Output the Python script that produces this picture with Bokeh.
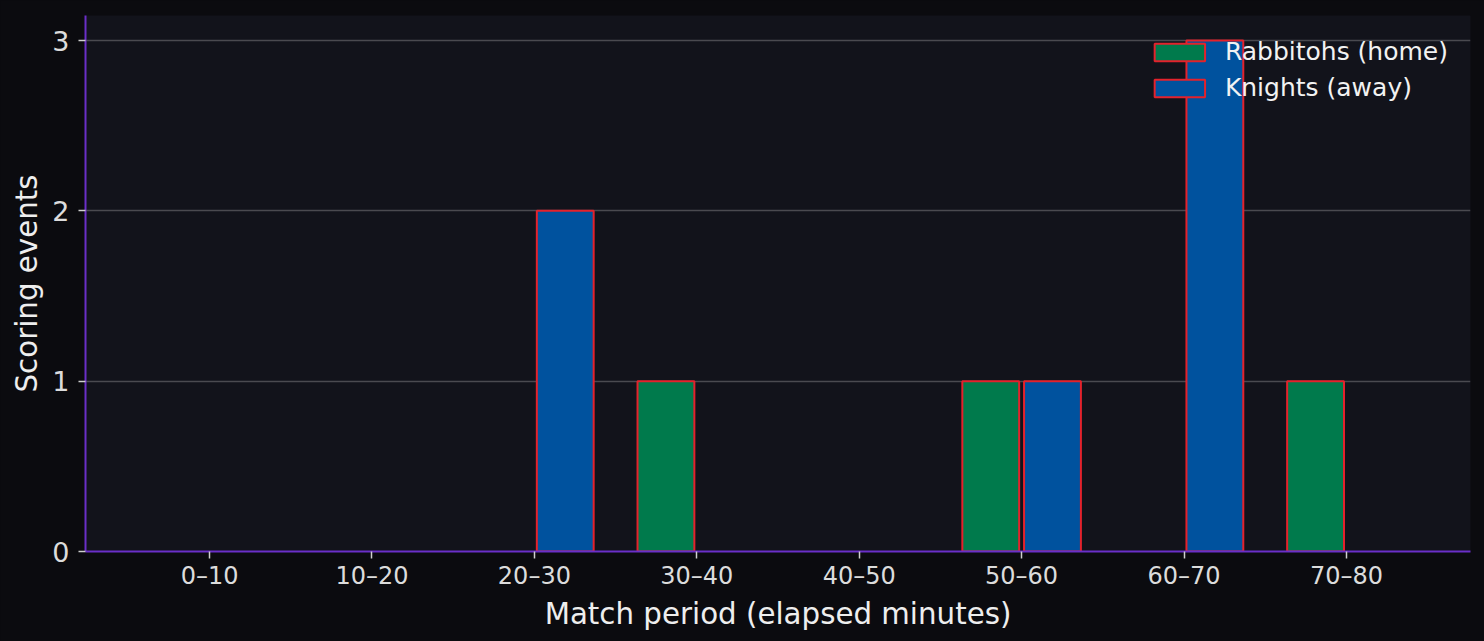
from bokeh.plotting import figure
from bokeh.models import (FactorRange, Range1d, FixedTicker, ColumnDataSource, CDSView,
                          BooleanFilter, GlobalInlineStyleSheet)
from bokeh.transform import dodge
from bokeh.embed import file_html
from bokeh.resources import INLINE

# ---- data ----
periods = ["0–10", "10–20", "20–30", "30–40", "40–50", "50–60", "60–70", "70–80"]
rabbitohs_home = [0, 0, 0, 1, 0, 1, 0, 1]
knights_away = [0, 0, 2, 0, 0, 1, 3, 0]
y_ticks = [0, 1, 2, 3]

source = ColumnDataSource(dict(period=periods, home=rabbitohs_home, away=knights_away))
home_view = CDSView(filter=BooleanFilter([v > 0 for v in rabbitohs_home]))
away_view = CDSView(filter=BooleanFilter([v > 0 for v in knights_away]))

FONT = "DejaVu Sans"
BORDER = "#0b0b0f"
PANEL = "#12131b"
PURPLE = "#6a2fc8"
OUTLINE = "#e4222c"

p = figure(
    x_range=FactorRange(factors=periods, range_padding=0.066),
    y_range=Range1d(0, 3.147),
    width=1484, height=641,
    output_backend="svg", toolbar_location=None,
    min_border_left=85, min_border_right=14, min_border_top=15, min_border_bottom=90,
)
p.stylesheets = [GlobalInlineStyleSheet(css="body{background:%s;}" % BORDER)]

p.background_fill_color = PANEL
p.border_fill_color = BORDER
p.outline_line_color = None

p.vbar(x=dodge("period", -0.19, range=p.x_range), top="home", width=0.35, source=source, view=home_view,
       fill_color="#007a4c", line_color=OUTLINE, line_width=2, legend_label="Rabbitohs (home)")
p.vbar(x=dodge("period", 0.19, range=p.x_range), top="away", width=0.35, source=source, view=away_view,
       fill_color="#00529e", line_color=OUTLINE, line_width=2, legend_label="Knights (away)")

# grid
p.xgrid.grid_line_color = None
p.ygrid.grid_line_color = "#4a4a50"
p.ygrid.grid_line_width = 1.5
p.yaxis.ticker = FixedTicker(ticks=y_ticks)
p.ygrid.ticker = FixedTicker(ticks=y_ticks)

for ax in (p.xaxis[0], p.yaxis[0]):
    ax.axis_line_color = PURPLE
    ax.axis_line_width = 2
    ax.major_tick_line_color = "#cfcfcf"
    ax.major_tick_line_width = 1.5
    ax.major_tick_out = 7
    ax.major_tick_in = 0
    ax.minor_tick_line_color = None
    ax.major_label_text_font = FONT
    ax.major_label_text_color = "#dcdcdc"
    ax.axis_label_text_font = FONT
    ax.axis_label_text_color = "#eeeeee"
    ax.axis_label_text_font_style = "normal"

p.xaxis.axis_label = "Match period (elapsed minutes)"
p.yaxis.axis_label = "Scoring events"
p.xaxis.major_label_text_font_size = "24px"
p.yaxis.major_label_text_font_size = "27px"
p.xaxis.axis_label_text_font_size = "29.3px"
p.yaxis.axis_label_text_font_size = "29.3px"
p.xaxis.major_label_standoff = 3
p.yaxis.major_label_standoff = 9
p.xaxis.axis_label_standoff = 4
p.yaxis.axis_label_standoff = 5

lg = p.legend[0]
lg.location = "top_right"
lg.background_fill_alpha = 0
lg.border_line_alpha = 0
lg.label_text_font = FONT
lg.label_text_font_size = "25px"
lg.label_text_color = "#f2f2f2"
lg.glyph_width = 63
lg.glyph_height = 22
lg.label_standoff = 14
lg.spacing = 7
lg.padding = 10
lg.margin = 12

open("out.html", "w").write(file_html(p, INLINE))
